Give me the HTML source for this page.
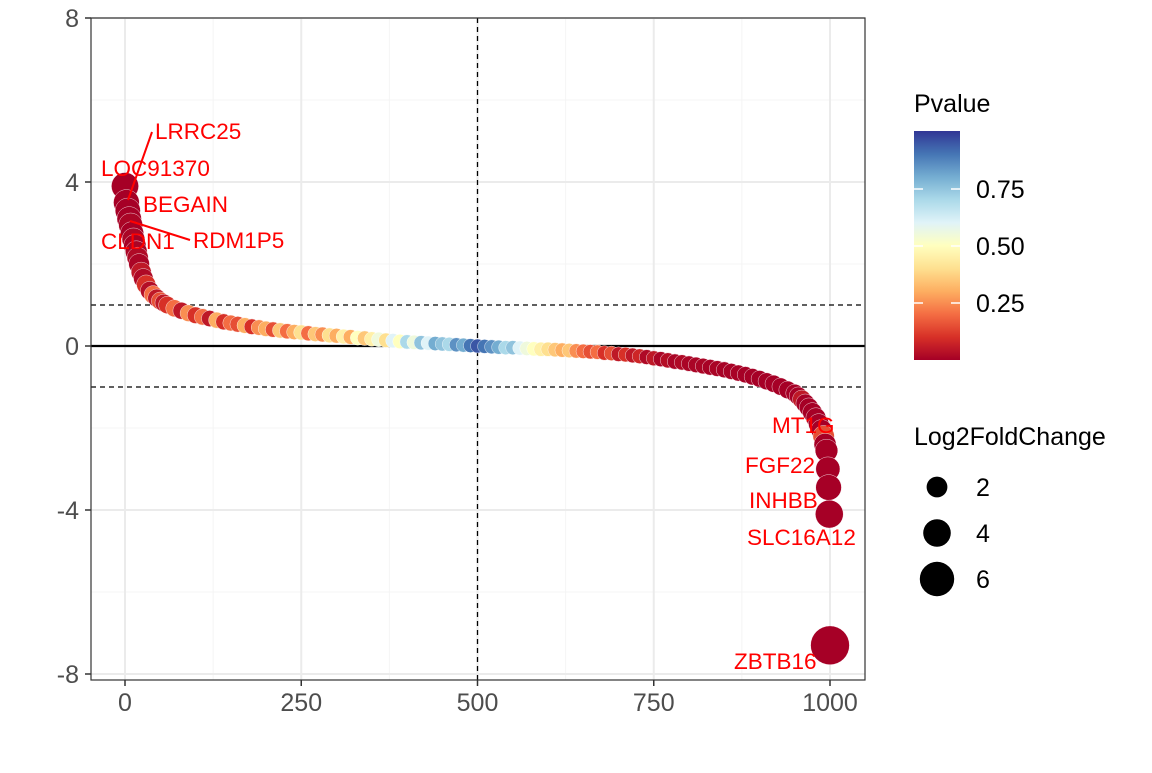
<!DOCTYPE html>
<html><head><meta charset="utf-8"><style>
body{margin:0;background:#fff;}
svg text{font-family:"Liberation Sans",sans-serif;}
</style></head><body>
<svg id="chart" width="1152" height="768" xmlns="http://www.w3.org/2000/svg">
<rect x="0" y="0" width="1152" height="768" fill="#fff"/>
<g id="grid"></g>
<g id="refs"></g>
<g id="pts"></g>
<g id="labels"></g>
<rect x="91" y="18" width="774" height="662" fill="none" stroke="#333" stroke-width="1.2"/>
<g id="axes"></g>
<g id="legend"></g>
</svg>
<script>
const ranks=[0,2,4,6,8,10,12,14,16,18,20,23,26,30,35,40,45,50,55,60,70,80,90,100,110,120,130,140,150,160,170,180,190,200,210,220,230,240,250,260,270,280,290,300,310,320,330,340,350,360,370,380,390,400,410,420,430,440,450,460,470,480,490,500,510,520,530,540,550,560,570,580,590,600,610,620,630,640,650,660,670,680,690,700,710,720,730,740,750,760,770,780,790,800,810,820,830,840,850,860,870,880,890,900,910,920,930,940,950,955,960,965,970,975,980,984,988,991,993,995,997,998,999,1000];
const values=[3.9,3.5,3.3,3.1,2.95,2.75,2.6,2.45,2.3,2.15,2.0,1.8,1.65,1.5,1.35,1.25,1.17,1.1,1.05,1.0,0.92,0.86,0.8,0.75,0.71,0.67,0.63,0.59,0.56,0.53,0.5,0.47,0.45,0.42,0.4,0.38,0.36,0.34,0.33,0.31,0.29,0.28,0.26,0.25,0.23,0.22,0.2,0.19,0.17,0.16,0.14,0.13,0.11,0.1,0.09,0.08,0.07,0.06,0.05,0.04,0.03,0.02,0.01,0,-0.01,-0.02,-0.03,-0.04,-0.04,-0.05,-0.06,-0.07,-0.08,-0.08,-0.09,-0.1,-0.11,-0.12,-0.13,-0.14,-0.15,-0.17,-0.18,-0.2,-0.21,-0.23,-0.25,-0.27,-0.3,-0.32,-0.35,-0.38,-0.4,-0.43,-0.46,-0.49,-0.52,-0.55,-0.58,-0.62,-0.66,-0.7,-0.75,-0.8,-0.86,-0.92,-0.99,-1.07,-1.15,-1.22,-1.3,-1.4,-1.5,-1.62,-1.75,-1.9,-2.05,-2.2,-2.4,-2.55,-3.0,-3.45,-4.1,-7.3];
const pvals=[
0.001,0.001,0.001,0.001,0.01,0.001,0.01,0.001,0.01,0.02,
0.01,0.05,0.02,0.1,0.03,0.2,0.05,0.15,0.05,0.1,
0.2,0.05,0.25,0.1,0.2,0.05,0.3,0.1,0.2,0.15,
0.3,0.1,0.25,0.3,0.15,0.35,0.2,0.3,0.4,0.2,
0.35,0.25,0.4,0.3,0.45,0.3,0.5,0.35,0.45,0.55,
0.4,0.6,0.5,0.7,0.55,0.75,0.6,0.8,0.75,0.7,
0.85,0.8,0.9,0.95,0.9,0.85,0.8,0.7,0.75,0.6,
0.55,0.5,0.45,0.4,0.35,0.3,0.35,0.25,0.2,0.15,
0.2,0.1,0.15,0.05,0.1,0.05,0.08,0.02,0.05,0.01,
0.03,0.01,0.02,0.01,0.01,0.01,0.005,0.01,0.005,0.005,
0.005,0.002,0.002,0.001,0.001,0.001,0.001,0.001,0.001,0.001,
0.05,0.001,0.001,0.001,0.001,0.001,0.001,0.15,0.001,0.001,
0.001,0.001,0.001,0.001];
const xTicks=[0,250,500,750,1000];
const yTicks=[-8,-4,0,4,8];
const labelNames=["LRRC25","LOC91370","BEGAIN","CLDN1","RDM1P5","MT1G","FGF22","INHBB","SLC16A12","ZBTB16"];
const sizeLegendValues=[2,4,6];
const pLegendTicks=[0.25,0.5,0.75];

const NS="http://www.w3.org/2000/svg";
const X=v=>125+v*0.705, Y=v=>346-v*41;
function el(tag,attrs,parent){const e=document.createElementNS(NS,tag);for(const k in attrs)e.setAttribute(k,attrs[k]);parent.appendChild(e);return e;}
const stops=[[0,[165,0,38]],[0.1,[215,48,39]],[0.2,[244,109,67]],[0.3,[253,174,97]],[0.4,[254,224,144]],[0.5,[255,255,191]],[0.6,[224,243,248]],[0.7,[171,217,233]],[0.8,[116,173,209]],[0.9,[69,117,180]],[1,[49,54,149]]];
function col(p){if(p===undefined)p=0.001;for(let i=1;i<stops.length;i++){if(p<=stops[i][0]){const a=stops[i-1],b=stops[i],t=(p-a[0])/(b[0]-a[0]);return 'rgb('+a[1].map((c,j)=>Math.round(c+(b[1][j]-c)*t)).join(',')+')';}}return 'rgb(49,54,149)';}
const R=v=>7+1.7*Math.abs(v);

const grid=document.getElementById('grid');
[125,375,625,875].forEach(v=>{const l=el('line',{x1:X(v),x2:X(v),y1:18,y2:680,stroke:'#f4f4f4','stroke-width':1},grid);});
[-6,-2,2,6].forEach(v=>{const l=el('line',{x1:91,x2:865,y1:Y(v),y2:Y(v),stroke:'#f4f4f4','stroke-width':1},grid);});
xTicks.forEach(v=>{const l=el('line',{x1:X(v),x2:X(v),y1:18,y2:680,stroke:'#ebebeb','stroke-width':2},grid);});
yTicks.forEach(v=>{const l=el('line',{x1:91,x2:865,y1:Y(v),y2:Y(v),stroke:'#ebebeb','stroke-width':2},grid);});

const refs=document.getElementById('refs');
let r1=el('line',{x1:X(500),x2:X(500),y1:18,y2:680,stroke:'#000','stroke-dasharray':'5,4','stroke-width':1.3},refs);

[1,-1].forEach(v=>{const l=el('line',{x1:91,x2:865,y1:Y(v),y2:Y(v),stroke:'#000','stroke-dasharray':'5,4','stroke-width':1.3},refs);});
let z=el('line',{x1:91,x2:865,y1:Y(0),y2:Y(0),stroke:'#000','stroke-width':2.2},refs);


const pts=document.getElementById('pts');
ranks.forEach((r,i)=>{const c=el('circle',{cx:X(r),cy:Y(values[i]),r:R(values[i]),fill:col(pvals[i]),stroke:'#fff','stroke-width':0.4},pts);

});

const labs=document.getElementById('labels');
const lp=[[155,139],[101,176],[143,212],[101,249],[193,248],[772,433],[745,473],[749,508],[747,545],[734,669]];
el('line',{x1:152,y1:132,x2:128,y2:200,stroke:'red','stroke-width':2},labs);
el('line',{x1:190,y1:240,x2:130,y2:221,stroke:'red','stroke-width':2},labs);
labelNames.forEach((n,i)=>{const t=el('text',{x:lp[i][0],y:lp[i][1],fill:'red','font-size':22.5},labs);t.textContent=n;

});

const axes=document.getElementById('axes');
xTicks.forEach(v=>{el('line',{x1:X(v),x2:X(v),y1:680,y2:686,stroke:'#333','stroke-width':1.5},axes);
const t=el('text',{x:X(v),y:711,'text-anchor':'middle','font-size':25,fill:'#4d4d4d'},axes);t.textContent=v;

});
yTicks.forEach(v=>{el('line',{x1:85,x2:91,y1:Y(v),y2:Y(v),stroke:'#333','stroke-width':1.5},axes);
const t=el('text',{x:79,y:Y(v)+9,'text-anchor':'end','font-size':25,fill:'#4d4d4d'},axes);t.textContent=v;

});

const lg=document.getElementById('legend');
const defs=el('defs',{},lg);
const gr=el('linearGradient',{id:'pg',x1:0,y1:1,x2:0,y2:0},defs);
for(let i=0;i<=20;i++){el('stop',{offset:i/20,'stop-color':col(i/20)},gr);}
let tt=el('text',{x:914,y:112,'font-size':25,fill:'#000'},lg);tt.textContent='Pvalue';

let bar=el('rect',{x:914,y:131,width:46,height:229,fill:'url(#pg)'},lg);

pLegendTicks.forEach(p=>{const y=360-p*228;
el('line',{x1:914,x2:923,y1:y,y2:y,stroke:'#fff','stroke-width':1.5},lg);el('line',{x1:951,x2:960,y1:y,y2:y,stroke:'#fff','stroke-width':1.5},lg);
const t=el('text',{x:976,y:y+9,'font-size':25,fill:'#000'},lg);t.textContent=p.toFixed(2);
});
let st=el('text',{x:914,y:445,'font-size':25,fill:'#000'},lg);st.textContent='Log2FoldChange';

sizeLegendValues.forEach((v,i)=>{const y=487+i*46;
const c=el('circle',{cx:937,cy:y,r:R(v),fill:'#000'},lg);

const t=el('text',{x:976,y:y+9,'font-size':25,fill:'#000'},lg);t.textContent=v;
});
</script>
</body></html>
